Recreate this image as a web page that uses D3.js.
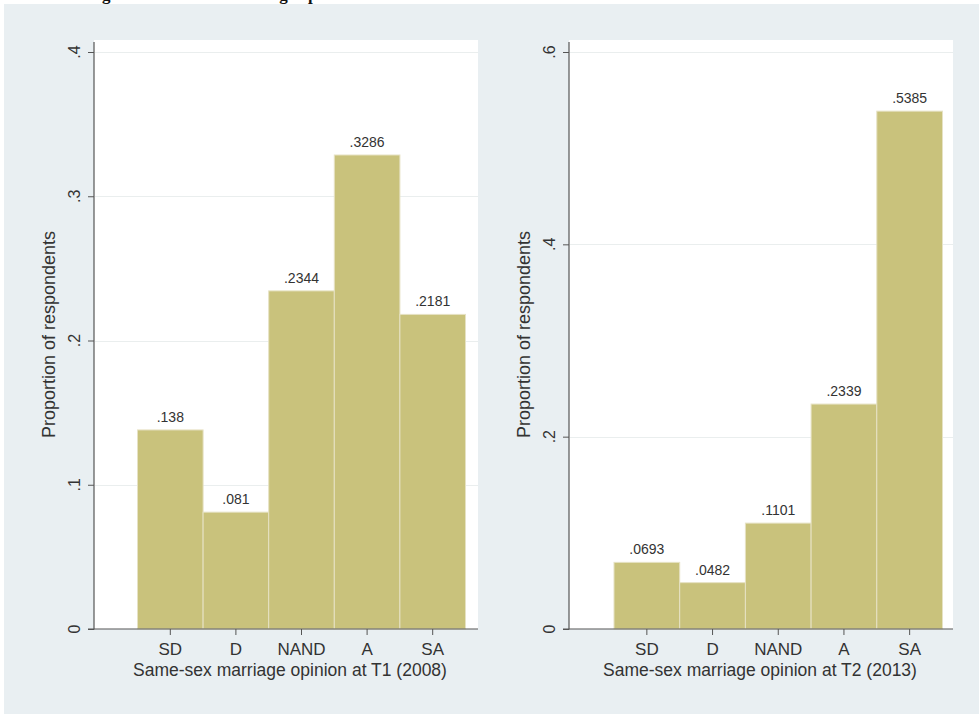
<!DOCTYPE html>
<html>
<head>
<meta charset="utf-8">
<script src="https://cdn.jsdelivr.net/npm/d3@7"></script>
<style>
  html, body { margin: 0; padding: 0; background: #ffffff; }
  svg { display: block; }
</style>
</head>
<body>
<script>
// ---- data ----
const categories = ["SD", "D", "NAND", "A", "SA"];
const valuesT1 = [0.138, 0.081, 0.2344, 0.3286, 0.2181];
const valuesT2 = [0.0693, 0.0482, 0.1101, 0.2339, 0.5385];
const labelsT1 = [".138", ".081", ".2344", ".3286", ".2181"];
const labelsT2 = [".0693", ".0482", ".1101", ".2339", ".5385"];
const ticksT1 = [0, 0.1, 0.2, 0.3, 0.4];
const tickLabelsT1 = ["0", ".1", ".2", ".3", ".4"];
const ticksT2 = [0, 0.2, 0.4, 0.6];
const tickLabelsT2 = ["0", ".2", ".4", ".6"];
const yTitle = "Proportion of respondents";
const xTitleT1 = "Same-sex marriage opinion at T1 (2008)";
const xTitleT2 = "Same-sex marriage opinion at T2 (2013)";
const figTitle = "Figure 1. Same-sex marriage opinion at T1 and T2";

const W = 979, H = 714;
const svg = d3.select("body").append("svg").attr("width", W).attr("height", H);

// partially visible title (cut off at top in the reference)
svg.append("text")
  .attr("x", 87).attr("y", 0)
  .attr("font-family", "Liberation Serif, Times New Roman, serif")
  .attr("font-weight", "bold").attr("font-size", 17)
  .attr("fill", "#111")
  .text(figTitle);

// background
svg.append("rect").attr("x", 4).attr("y", 4).attr("width", W - 4).attr("height", H - 4)
  .attr("fill", "#e9eff2");

const FONT = "Liberation Sans, Arial, Helvetica, sans-serif";
const TXT = "#333";

function panel(cfg) {
  const g = svg.append("g");
  const y = d3.scaleLinear().domain([0, cfg.ymax]).range([629, 52]);
  const x = d3.scaleBand().domain(categories).range(cfg.barRange).paddingInner(0).paddingOuter(0);

  // plot region
  g.append("rect").attr("x", cfg.axisX).attr("y", 40)
    .attr("width", cfg.plotRight - cfg.axisX).attr("height", 629 - 40)
    .attr("fill", "#ffffff");

  // gridlines
  g.selectAll("line.grid").data(cfg.ticks.filter(d => d > 0)).enter().append("line")
    .attr("x1", cfg.axisX + 1).attr("x2", cfg.plotRight)
    .attr("y1", d => Math.round(y(d)) + 0.5).attr("y2", d => Math.round(y(d)) + 0.5)
    .attr("stroke", "#eaeeee").attr("stroke-width", 1);

  // bars
  g.selectAll("rect.bar").data(cfg.values).enter().append("rect")
    .attr("x", (d, i) => x(categories[i]))
    .attr("y", d => y(d))
    .attr("width", x.bandwidth())
    .attr("height", d => y(0) - y(d))
    .attr("fill", "#c9c27c")
    .attr("stroke", "#e6e2c4").attr("stroke-width", 1);

  // value labels
  g.selectAll("text.val").data(cfg.values).enter().append("text")
    .attr("x", (d, i) => x(categories[i]) + x.bandwidth() / 2)
    .attr("y", d => y(d) - 8)
    .attr("text-anchor", "middle")
    .attr("font-family", FONT).attr("font-size", 14).attr("fill", TXT)
    .text((d, i) => cfg.labels[i]);

  // y axis
  const yAxis = d3.axisLeft(y).tickValues(cfg.ticks).tickSize(6)
    .tickFormat((d, i) => cfg.tickLabels[i]);
  const ya = g.append("g").attr("transform", `translate(${cfg.axisX},0)`).call(yAxis);
  ya.select(".domain").remove();
  ya.selectAll(".tick line").attr("stroke", "#555");
  ya.selectAll(".tick text").remove();
  g.append("line").attr("x1", cfg.axisX).attr("x2", cfg.axisX).attr("y1", 42).attr("y2", 629.5)
    .attr("stroke", "#555").attr("stroke-width", 1.2);
  g.selectAll("text.ytick").data(cfg.ticks).enter().append("text")
    .attr("transform", d => `translate(${cfg.axisX - 14},${y(d)}) rotate(-90)`)
    .attr("text-anchor", "middle")
    .attr("font-family", FONT).attr("font-size", 16).attr("fill", TXT)
    .text((d, i) => cfg.tickLabels[i]);

  // x axis
  const xAxis = d3.axisBottom(x).tickSize(6).tickFormat(d => d);
  const xa = g.append("g").attr("transform", "translate(0,629)").call(xAxis);
  xa.select(".domain").remove();
  xa.selectAll(".tick line").attr("stroke", "#555");
  xa.selectAll(".tick text").attr("font-family", FONT).attr("font-size", 17)
    .attr("fill", TXT).attr("dy", null).attr("y", 26);
  g.append("line").attr("x1", cfg.axisX - 6).attr("x2", cfg.plotRight).attr("y1", 629).attr("y2", 629)
    .attr("stroke", "#555").attr("stroke-width", 1.2);

  // titles
  g.append("text")
    .attr("x", cfg.xTitleX).attr("y", 676)
    .attr("text-anchor", "middle")
    .attr("font-family", FONT).attr("font-size", 17.5).attr("fill", TXT)
    .text(cfg.xTitle);
  g.append("text")
    .attr("transform", `translate(${cfg.axisX - 39},334.5) rotate(-90)`)
    .attr("text-anchor", "middle")
    .attr("font-family", FONT).attr("font-size", 18).attr("fill", TXT)
    .text(yTitle);
}

panel({
  ymax: 0.4, ticks: ticksT1, tickLabels: tickLabelsT1,
  values: valuesT1, labels: labelsT1,
  axisX: 94, plotRight: 478, barRange: [137.5, 465.5],
  xTitle: xTitleT1, xTitleX: 290
});
panel({
  ymax: 0.6, ticks: ticksT2, tickLabels: tickLabelsT2,
  values: valuesT2, labels: labelsT2,
  axisX: 569, plotRight: 953, barRange: [614, 942.5],
  xTitle: xTitleT2, xTitleX: 760
});
</script>
</body>
</html>
